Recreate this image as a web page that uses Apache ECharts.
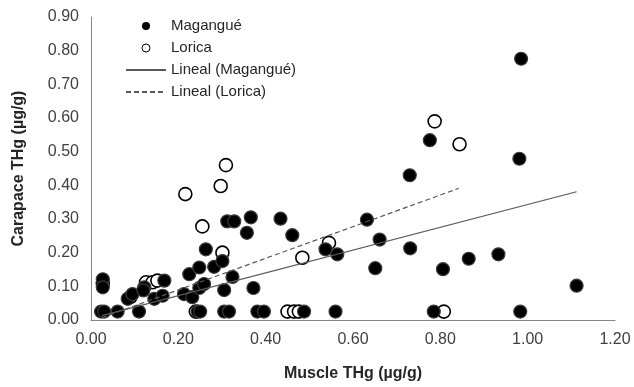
<!DOCTYPE html>
<html>
<head>
<meta charset="utf-8">
<script src="https://cdn.jsdelivr.net/npm/echarts@6/dist/echarts.min.js"></script>
<style>html,body{margin:0;padding:0;background:#fff}#c{width:634px;height:387px}</style>
</head>
<body>
<div id="c"></div>
<script>
const magX = [0.027,0.027,0.023,0.030,0.061,0.110,0.084,0.095,0.122,0.120,0.145,0.164,0.168,0.213,0.232,0.225,0.248,0.248,0.259,0.263,0.282,0.301,0.305,0.324,0.244,0.250,0.305,0.316,0.312,0.328,0.357,0.366,0.372,0.381,0.396,0.434,0.461,0.488,0.537,0.560,0.564,0.632,0.651,0.661,0.730,0.731,0.776,0.785,0.806,0.865,0.933,0.981,0.983,0.985,1.112];
const magY = [0.121,0.097,0.025,0.025,0.025,0.025,0.063,0.077,0.097,0.088,0.063,0.072,0.117,0.077,0.068,0.136,0.156,0.095,0.107,0.210,0.158,0.175,0.089,0.128,0.025,0.025,0.025,0.025,0.293,0.293,0.259,0.305,0.095,0.025,0.025,0.301,0.252,0.025,0.210,0.025,0.195,0.298,0.154,0.239,0.430,0.213,0.534,0.025,0.151,0.182,0.195,0.479,0.025,0.776,0.102];
const lorX = [0.027,0.090,0.126,0.141,0.152,0.216,0.240,0.255,0.297,0.301,0.309,0.450,0.465,0.476,0.484,0.545,0.787,0.808,0.844];
const lorY = [0.110,0.068,0.112,0.112,0.117,0.374,0.025,0.278,0.398,0.200,0.460,0.025,0.025,0.025,0.185,0.229,0.590,0.025,0.522];
const magTrendX = [0.025, 1.112];
const magTrendY = [0.013, 0.381];
const lorTrendX = [0.025, 0.842];
const lorTrendY = [0.007, 0.391];
const xTicks = [0, 0.2, 0.4, 0.6, 0.8, 1.0, 1.2];
const yTicks = [0, 0.1, 0.2, 0.3, 0.4, 0.5, 0.6, 0.7, 0.8, 0.9];

const zip = (a, b) => a.map((v, i) => [v, b[i]]);
const font = 'Liberation Sans, Arial, sans-serif';
const chart = echarts.init(document.getElementById('c'));
chart.setOption({
  animation: false,
  textStyle: { fontFamily: font },
  grid: { left: 91, right: 19, top: 17, bottom: 64 },
  xAxis: {
    type: 'value', min: xTicks[0], max: xTicks[xTicks.length - 1], interval: 0.2,
    name: 'Muscle THg (µg/g)', nameLocation: 'middle', nameGap: 46,
    nameTextStyle: { fontSize: 16, fontWeight: 'bold', color: '#262626', fontFamily: font },
    axisLine: { lineStyle: { color: '#868686', width: 1 } },
    axisTick: { show: false },
    splitLine: { show: false },
    axisLabel: { fontSize: 16, color: '#404040', margin: 12, formatter: v => v.toFixed(2) }
  },
  yAxis: {
    type: 'value', min: yTicks[0], max: yTicks[yTicks.length - 1], interval: 0.1,
    name: 'Carapace THg (µg/g)', nameLocation: 'middle', nameGap: 64, nameRotate: 90,
    nameTextStyle: { fontSize: 16, fontWeight: 'bold', color: '#262626', fontFamily: font },
    axisLine: { show: true, lineStyle: { color: '#868686', width: 1 } },
    axisTick: { show: false },
    splitLine: { show: false },
    axisLabel: { fontSize: 16, color: '#404040', margin: 12, formatter: v => v.toFixed(2) }
  },
  legend: {
    orient: 'vertical', left: 120, top: 13, itemWidth: 40, itemHeight: 8, itemGap: 6,
    textStyle: { fontSize: 15, color: '#262626', lineHeight: 16, fontFamily: font },
    data: [
      { name: 'Magangué', icon: 'circle', itemStyle: { borderWidth: 0 } },
      { name: 'Lorica', icon: 'circle', itemStyle: { borderWidth: 1 } },
      { name: 'Lineal (Magangué)', itemStyle: { opacity: 0 } },
      { name: 'Lineal (Lorica)', itemStyle: { opacity: 0 } }
    ]
  },
  series: [
    {
      name: 'Lorica', type: 'scatter', symbol: 'circle', symbolSize: 13, z: 2,
      itemStyle: { color: '#ffffff', borderColor: '#000000', borderWidth: 1.6, opacity: 1 },
      data: zip(lorX, lorY)
    },
    {
      name: 'Magangué', type: 'scatter', symbol: 'circle', symbolSize: 13, z: 3,
      itemStyle: { color: '#000000', borderColor: '#3a3a3a', borderWidth: 1.2, opacity: 1 },
      data: zip(magX, magY)
    },
    {
      name: 'Lineal (Magangué)', type: 'line', symbol: 'none', z: 4,
      itemStyle: { color: '#595959' },
      lineStyle: { color: '#595959', width: 1.2, type: 'solid' },
      data: zip(magTrendX, magTrendY)
    },
    {
      name: 'Lineal (Lorica)', type: 'line', symbol: 'none', z: 4,
      itemStyle: { color: '#595959' },
      lineStyle: { color: '#595959', width: 1.2, type: [5, 3] },
      data: zip(lorTrendX, lorTrendY)
    }
  ]
});
</script>
</body>
</html>
